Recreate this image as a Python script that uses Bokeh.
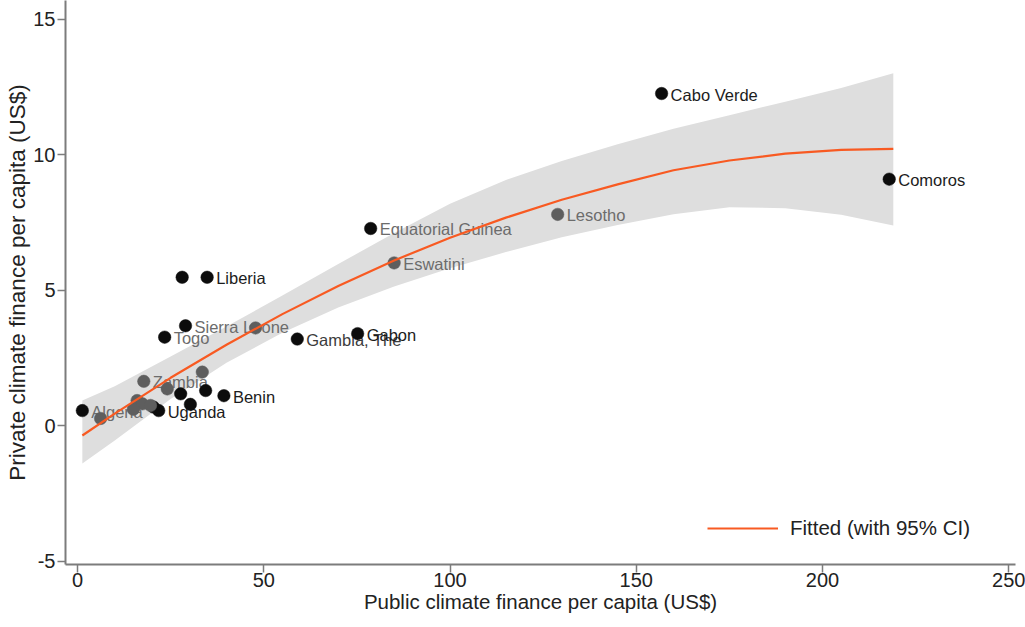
from bokeh.plotting import figure
from bokeh.models import Range1d, Legend, LegendItem, ColumnDataSource, FixedTicker
from bokeh.core.properties import value
from bokeh.embed import file_html
from bokeh.resources import INLINE

# ---- data ----
countries = ["Cabo Verde", "Comoros", "Equatorial Guinea", "Liberia", "", "Sierra Leone", "Togo",
             "Gambia, The", "Gabon", "Benin", "", "", "", "Uganda", "", "Algeria",
             "Lesotho", "Eswatini", "", "Zambia", "", "", "", "", "", "", ""]
public_pc = [156.8, 217.9, 78.7, 34.8, 28.1, 29.0, 23.4, 59.0, 75.2, 39.3, 27.7, 34.4, 30.3, 21.8, 20.4, 1.3,
             128.9, 85.0, 47.8, 17.8, 24.1, 33.5, 6.2, 16.0, 17.4, 19.6, 15.0]
private_pc = [12.25, 9.09, 7.27, 5.47, 5.47, 3.68, 3.26, 3.19, 3.39, 1.10, 1.17, 1.29, 0.78, 0.55, 0.68, 0.55,
              7.79, 6.00, 3.60, 1.63, 1.35, 1.97, 0.26, 0.92, 0.80, 0.74, 0.60]
group = ["A"] * 16 + ["B"] * 11

fit_x = [1.3, 10, 25, 40, 55, 70, 85, 100, 115, 130, 145, 160, 175, 190, 205, 219]
fit_y = [-0.37, 0.44, 1.76, 2.98, 4.11, 5.15, 6.09, 6.93, 7.67, 8.33, 8.90, 9.42, 9.78, 10.03, 10.17, 10.21]
ci_hi = [0.92, 1.45, 2.55, 3.65, 4.80, 5.96, 7.10, 8.18, 9.06, 9.76, 10.38, 10.95, 11.45, 11.95, 12.45, 13.00]
ci_lo = [-1.40, -0.55, 0.98, 2.32, 3.42, 4.35, 5.13, 5.80, 6.40, 6.95, 7.40, 7.80, 8.05, 8.02, 7.78, 7.38]

x_ticks = [0, 50, 100, 150, 200, 250]
y_ticks = [-5, 0, 5, 10, 15]

x_title = "Public climate finance per capita (US$)"
y_title = "Private climate finance per capita (US$)"
legend_label = "Fitted (with 95% CI)"

# ---- styles ----
FONT = "Liberation Sans"
ORANGE = "#f85a22"
BAND = "#dedede"
DOT = {"A": "#0c0c0c", "B": "#5e5e5e"}
GRAY_LABELS = {"Equatorial Guinea", "Eswatini", "Lesotho", "Sierra Leone", "Togo", "Zambia", "Algeria"}
MID_LABELS = {"Gambia, The"}
AXIS_GRAY = "#7c7c7c"
TXT = "#222222"

p = figure(width=1025, height=626, x_range=Range1d(-3.22, 251.8), y_range=Range1d(-5.129, 15.683),
           output_backend="svg", toolbar_location=None,
           min_border_left=65, min_border_right=10, min_border_top=0, min_border_bottom=62)
p.outline_line_color = None
p.xgrid.visible = False
p.ygrid.visible = False
p.background_fill_color = "white"
p.border_fill_color = "white"

p.xaxis.ticker = FixedTicker(ticks=x_ticks)
p.yaxis.ticker = FixedTicker(ticks=y_ticks)
p.yaxis.major_label_overrides = {t: str(t) for t in y_ticks}
p.xaxis.axis_label = x_title
p.yaxis.axis_label = y_title
for ax in (p.xaxis[0], p.yaxis[0]):
    ax.axis_line_color = AXIS_GRAY
    ax.axis_line_width = 2
    ax.major_tick_line_color = AXIS_GRAY
    ax.major_tick_line_width = 1.5
    ax.major_tick_out = 8
    ax.major_tick_in = 0
    ax.minor_tick_out = 0
    ax.minor_tick_in = 0
    ax.major_label_text_font = FONT
    ax.major_label_text_font_size = "20px"
    ax.major_label_text_color = TXT
    ax.axis_label_text_font = FONT
    ax.axis_label_text_font_style = "normal"
    ax.axis_label_text_color = TXT
p.xaxis[0].major_label_standoff = 0
p.xaxis[0].axis_label_standoff = 0
p.xaxis[0].axis_label_text_font_size = "20.5px"
p.yaxis[0].major_label_standoff = 2
p.yaxis[0].axis_label_standoff = 0
p.yaxis[0].axis_label_text_font_size = "22.5px"

# CI band
p.varea(x=fit_x, y1=ci_lo, y2=ci_hi, fill_color=BAND, fill_alpha=1.0)

# labels
lab_x, lab_y, lab_t, lab_c = [], [], [], []
for c, xv, yv in zip(countries, public_pc, private_pc):
    if c:
        lab_x.append(xv)
        lab_y.append(yv)
        lab_t.append(c)
        lab_c.append("#6c6c6c" if c in GRAY_LABELS else ("#3c3c3c" if c in MID_LABELS else "#1c1c1c"))
lab_src = ColumnDataSource(dict(x=lab_x, y=lab_y, t=lab_t, c=lab_c))
p.text(x="x", y="y", text="t", source=lab_src, x_offset=9, y_offset=1,
       text_align="left", text_baseline="middle", text_color="c",
       text_font=value(FONT), text_font_size=value("16.5px"))

# points
for g in ("A", "B"):
    xs = [xv for xv, gg in zip(public_pc, group) if gg == g]
    ys = [yv for yv, gg in zip(private_pc, group) if gg == g]
    p.scatter(xs, ys, size=12.5, fill_color=DOT[g], line_color=DOT[g], line_width=0.5)

# fitted line
r_fit = p.line(fit_x, fit_y, line_color=ORANGE, line_width=2.2)

legend = Legend(items=[LegendItem(label=legend_label, renderers=[r_fit])],
                location=(642, 24), border_line_color=None, background_fill_alpha=0,
                padding=0, margin=0, glyph_width=71, glyph_height=20, label_standoff=12,
                label_text_font=FONT, label_text_font_size="20.5px", label_text_color=TXT)
p.add_layout(legend)

open("out.html", "w").write(file_html(p, INLINE))
